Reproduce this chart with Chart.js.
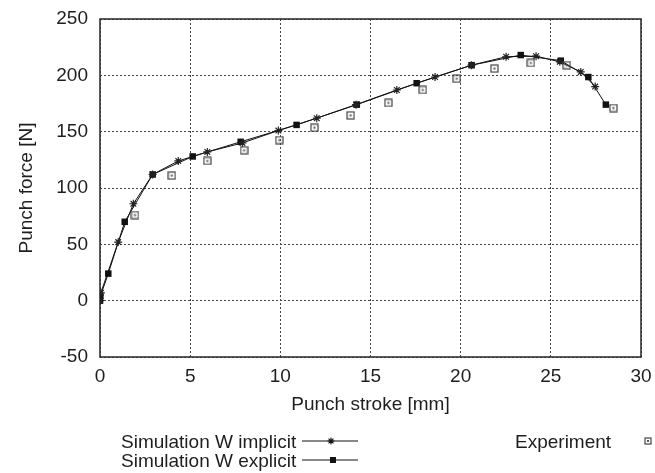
<!DOCTYPE html>
<html>
<head>
<meta charset="utf-8">
<script src="https://cdn.jsdelivr.net/npm/chart.js@4.4.0/dist/chart.umd.min.js"></script>
<style>
  html, body { margin: 0; padding: 0; background: #fff; }
  #wrap { width: 655px; height: 473px; }
</style>
</head>
<body>
<div id="wrap"><canvas id="chart" width="655" height="473"></canvas></div>
<script>
// punch stroke [mm] / punch force [N]
const implicitX = [0, 0.05, 1.01, 1.85, 2.92, 4.34, 5.95, 7.9, 9.89, 12.02, 14.2, 16.46, 18.58, 20.6, 22.52, 24.18, 25.5, 26.66, 27.46];
const implicitY = [0, 7, 52, 86, 112, 124, 132, 140, 151, 162, 174, 187, 198.5, 209, 216.5, 217, 212, 203, 190];

const explicitX = [0, 0.02, 0.46, 1.37, 2.92, 5.14, 7.8, 10.9, 14.24, 17.56, 20.61, 23.33, 25.55, 27.08, 28.05];
const explicitY = [0, 4, 24, 70, 112, 128, 141, 156, 174, 193, 209, 218, 213, 198.5, 174];

const expX = [1.94, 3.98, 5.95, 7.99, 9.94, 11.89, 13.9, 15.99, 17.9, 19.78, 21.87, 23.89, 25.88, 28.47];
const expY = [76, 111, 124, 133.5, 142.5, 153.5, 164.5, 175.5, 187, 197, 206, 211, 209, 171];

const xTicks = [0, 5, 10, 15, 20, 25, 30];
const yTicks = [-50, 0, 50, 100, 150, 200, 250];

const FONT = '"Liberation Sans", Arial, sans-serif';
const TXT = '#1e1e1e';

const toPts = (xs, ys) => xs.map((x, i) => ({x: x, y: ys[i]}));

// open square with a dot in the middle
function expMarker(size) {
  const c = document.createElement('canvas');
  c.width = size; c.height = size;
  const g = c.getContext('2d');
  g.strokeStyle = '#444'; g.lineWidth = 1.2;
  g.strokeRect(1, 1, size - 2, size - 2);
  g.fillStyle = '#555';
  g.fillRect(size / 2 - 1, size / 2 - 1, 2, 2);
  return c;
}
const expImg = expMarker(9);
const expImgSmall = expMarker(8);

function drawStar(ctx, x, y, r) {
  ctx.beginPath();
  ctx.moveTo(x - r, y); ctx.lineTo(x + r, y);
  ctx.moveTo(x, y - r); ctx.lineTo(x, y + r);
  const d = r * Math.SQRT1_2;
  ctx.moveTo(x - d, y - d); ctx.lineTo(x + d, y + d);
  ctx.moveTo(x - d, y + d); ctx.lineTo(x + d, y - d);
  ctx.stroke();
}

const framePlugin = {
  id: 'frame',
  beforeDatasetsDraw(chart) {
    const a = chart.chartArea, ctx = chart.ctx;
    ctx.save();
    ctx.strokeStyle = '#333';
    ctx.lineWidth = 1.6;
    ctx.strokeRect(a.left, a.top, a.right - a.left, a.bottom - a.top);
    ctx.restore();
  }
};

const legendPlugin = {
  id: 'bottomLegend',
  afterDraw(chart) {
    const ctx = chart.ctx;
    ctx.save();
    ctx.font = '19px ' + FONT;
    ctx.fillStyle = TXT;
    ctx.textBaseline = 'alphabetic';
    ctx.textAlign = 'left';
    ctx.fillText('Simulation W implicit', 121, 448);
    ctx.fillText('Simulation W explicit', 121, 467);
    ctx.fillText('Experiment', 515, 448);

    ctx.strokeStyle = '#111';
    ctx.lineWidth = 1;
    [441, 460].forEach(y => {
      ctx.beginPath(); ctx.moveTo(302, y); ctx.lineTo(358, y); ctx.stroke();
    });
    ctx.lineWidth = 1.1;
    drawStar(ctx, 331, 441, 3.5);
    ctx.fillStyle = '#111';
    ctx.fillRect(330, 457, 6, 6);
    ctx.drawImage(expImgSmall, 644, 437);
    ctx.restore();
  }
};

new Chart(document.getElementById('chart'), {
  type: 'scatter',
  data: {
    datasets: [
      {
        label: 'Experiment',
        data: toPts(expX, expY),
        showLine: false,
        pointStyle: expImg,
        pointRadius: 4.5
      },
      {
        label: 'Simulation W implicit',
        data: toPts(implicitX, implicitY),
        showLine: true,
        borderColor: '#111',
        borderWidth: 1,
        pointStyle: 'star',
        pointRadius: 4,
        pointBorderColor: '#222',
        pointBorderWidth: 1.2,
        pointBackgroundColor: '#222'
      },
      {
        label: 'Simulation W explicit',
        data: toPts(explicitX, explicitY),
        showLine: true,
        borderColor: '#111',
        borderWidth: 1,
        pointStyle: 'rect',
        pointRadius: 4.6,
        pointBorderWidth: 0,
        pointBackgroundColor: '#111'
      }
    ]
  },
  options: {
    responsive: false,
    animation: false,
    layout: { padding: { top: 19, right: 14, bottom: 56, left: 0 } },
    plugins: { legend: { display: false }, tooltip: { enabled: false } },
    scales: {
      x: {
        type: 'linear',
        min: 0, max: 30,
        afterBuildTicks: s => { s.ticks = xTicks.map(v => ({value: v})); },
        afterFit: s => { s.height = 60; s.paddingLeft = 0; s.paddingRight = 0; },
        ticks: { color: TXT, font: { family: FONT, size: 19 }, padding: 8, maxRotation: 0 },
        grid: { color: '#444', lineWidth: 1, drawTicks: false },
        border: { display: false, dash: [2, 2] },
        title: { display: true, text: 'Punch stroke [mm]', color: TXT, font: { family: FONT, size: 19 }, padding: 1 }
      },
      y: {
        type: 'linear',
        min: -50, max: 250,
        afterBuildTicks: s => { s.ticks = yTicks.map(v => ({value: v})); },
        afterFit: s => { s.width = 100; s.paddingTop = 0; s.paddingBottom = 0; },
        ticks: { color: TXT, font: { family: FONT, size: 19 }, padding: 12 },
        grid: { color: '#444', lineWidth: 1, drawTicks: false },
        border: { display: false, dash: [2, 2] },
        title: { display: true, text: 'Punch force [N]', color: TXT, font: { family: FONT, size: 19 }, padding: 15 }
      }
    }
  },
  plugins: [framePlugin, legendPlugin]
});
</script>
</body>
</html>
